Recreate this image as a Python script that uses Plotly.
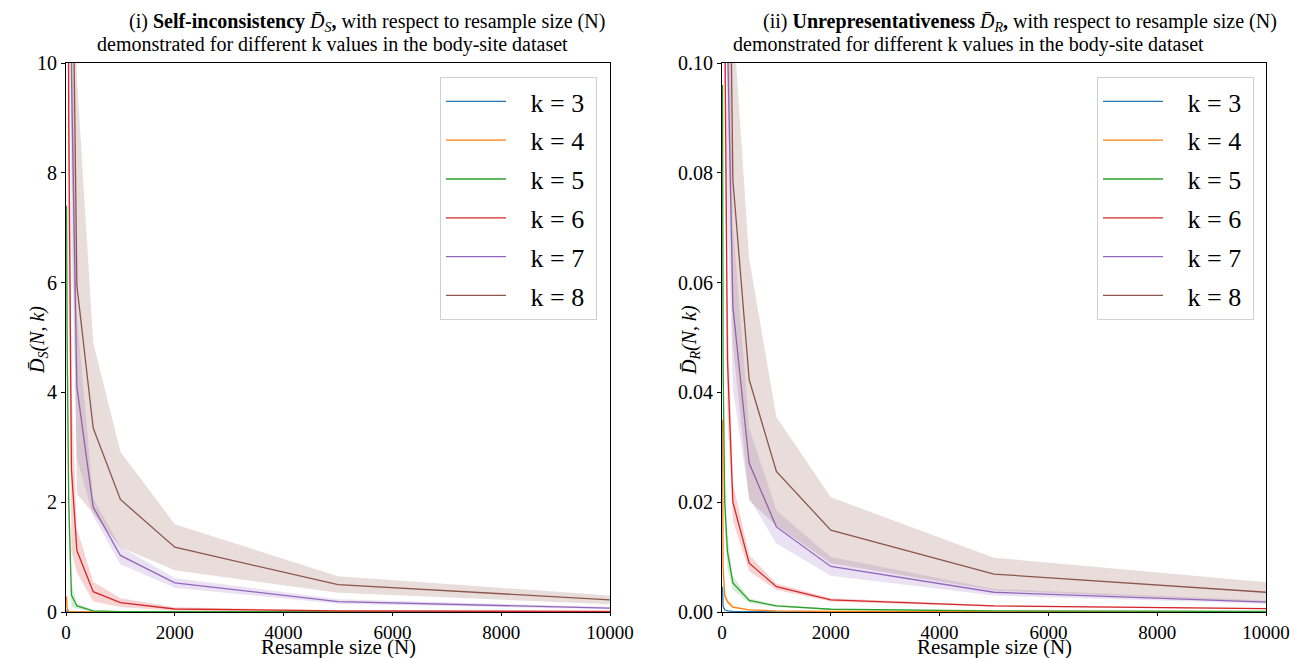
import plotly.graph_objects as go

# ---------------- data ----------------
N_VALUES = [10, 20, 50, 100, 200, 500, 1000, 2000, 5000, 10000]
K_VALUES = [3, 4, 5, 6, 7, 8]
COLORS = ["#1f77b4", "#ff7f0e", "#2ca02c", "#d62728", "#9467bd", "#8c564b"]

# (i) Self-inconsistency mean / std, one row per k
DS_MEAN = [
    [0.03, 0.005, 0.001, 0.0005, 0.0003, 0.0001, 0.0001, 0.0, 0.0, 0.0],
    [0.28, 0.06, 0.012, 0.004, 0.002, 0.001, 0.0005, 0.0002, 0.0001, 0.0001],
    [7.4, 5.0, 2.0, 0.31, 0.11, 0.02, 0.008, 0.004, 0.002, 0.001],
    [30.0, 20.0, 9.0, 2.6, 1.12, 0.37, 0.17, 0.055, 0.02, 0.01],
    [80.0, 45.0, 22.0, 9.8, 4.1, 1.91, 1.03, 0.53, 0.19, 0.07],
    [150.0, 80.0, 35.0, 14.0, 5.95, 3.35, 2.05, 1.18, 0.5, 0.22],
]
DS_STD = [
    [0.01, 0.002, 0.0, 0.0, 0.0, 0.0, 0.0, 0.0, 0.0, 0.0],
    [0.05, 0.02, 0.005, 0.002, 0.001, 0.0, 0.0, 0.0, 0.0, 0.0],
    [2.0, 1.5, 0.6, 0.22, 0.05, 0.012, 0.005, 0.002, 0.001, 0.0],
    [8.0, 6.0, 3.0, 1.5, 0.4, 0.18, 0.08, 0.03, 0.012, 0.006],
    [20.0, 12.0, 6.0, 3.0, 1.3, 0.16, 0.16, 0.09, 0.04, 0.02],
    [40.0, 25.0, 10.0, 5.0, 3.8, 1.55, 0.87, 0.42, 0.15, 0.08],
]

# (ii) Unrepresentativeness mean / std, one row per k
DR_MEAN = [
    [0.0046, 0.001, 0.0004, 0.0002, 0.0001, 0.00005, 0.00003, 0.00002, 0.00001, 0.00001],
    [0.035, 0.008, 0.003, 0.0019, 0.0009, 0.0004, 0.0002, 0.0001, 0.00005, 0.00003],
    [0.096, 0.045, 0.02, 0.011, 0.0053, 0.0021, 0.0011, 0.0005, 0.0002, 0.0001],
    [0.3, 0.2, 0.11, 0.046, 0.020, 0.0089, 0.0046, 0.0022, 0.0011, 0.0006],
    [0.6, 0.4, 0.2, 0.105, 0.0556, 0.0271, 0.0155, 0.0083, 0.0036, 0.0018],
    [1.0, 0.6, 0.3, 0.16, 0.0787, 0.0423, 0.0256, 0.0149, 0.0069, 0.0036],
]
DR_STD = [
    [0.001, 0.0003, 0.0001, 0.0, 0.0, 0.0, 0.0, 0.0, 0.0, 0.0],
    [0.005, 0.0015, 0.0006, 0.0005, 0.0002, 0.0001, 0.0, 0.0, 0.0, 0.0],
    [0.01, 0.008, 0.005, 0.003, 0.0012, 0.0004, 0.0002, 0.0001, 0.0, 0.0],
    [0.05, 0.03, 0.02, 0.01, 0.0035, 0.0015, 0.0006, 0.0003, 0.00015, 0.0001],
    [0.1, 0.06, 0.04, 0.03, 0.015, 0.0064, 0.003, 0.0017, 0.0006, 0.0003],
    [0.2, 0.1, 0.08, 0.06, 0.03, 0.022, 0.0099, 0.006, 0.003, 0.0018],
]

TITLE_LINE1 = [
    "(i) <b>Self-inconsistency</b> <i>D\u0304<sub>S</sub></i><b>,</b> with respect to resample size (N)",
    "(ii) <b>Unrepresentativeness</b> <i>D\u0304<sub>R</sub></i><b>,</b> with respect to resample size (N)",
]
TITLE_LINE2 = "demonstrated for different k values in the body-site dataset"
Y_LABELS = ["<i>D\u0304<sub>S</sub>(N, k)</i>", "<i>D\u0304<sub>R</sub>(N, k)</i>"]
X_LABEL = "Resample size (N)"

# ---------------- figure ----------------
W, H = 1291, 658
ML, MR, MT, MB = 66, 25, 63, 46
PW = W - ML - MR
PH = H - MT - MB
FONT = "Liberation Serif, Times New Roman, serif"


def px_x(p):
    return (p - ML) / PW


def px_y(p):
    return (H - MB - p) / PH


def rgba(hexc, a):
    h = hexc.lstrip("#")
    return "rgba(%d,%d,%d,%s)" % (int(h[0:2], 16), int(h[2:4], 16), int(h[4:6], 16), a)


fig = go.Figure()

panels = [
    (DS_MEAN, DS_STD, "x", "y", "legend"),
    (DR_MEAN, DR_STD, "x2", "y2", "legend2"),
]

for means, stds, xa, ya, leg in panels:
    for i, k in enumerate(K_VALUES):
        m = means[i]
        s = stds[i]
        upper = [a + b for a, b in zip(m, s)]
        lower = [a - b for a, b in zip(m, s)]
        grp = "%s_%d" % (leg, k)
        fig.add_trace(go.Scatter(x=N_VALUES, y=upper, xaxis=xa, yaxis=ya, mode="lines",
                                 line=dict(width=0, color=COLORS[i]), showlegend=False,
                                 hoverinfo="skip", legend=leg, legendgroup=grp))
        fig.add_trace(go.Scatter(x=N_VALUES, y=lower, xaxis=xa, yaxis=ya, mode="lines",
                                 line=dict(width=0, color=COLORS[i]), fill="tonexty",
                                 fillcolor=rgba(COLORS[i], 0.2), showlegend=False,
                                 hoverinfo="skip", legend=leg, legendgroup=grp))
        fig.add_trace(go.Scatter(x=N_VALUES, y=m, xaxis=xa, yaxis=ya, mode="lines",
                                 line=dict(width=1.3, color=COLORS[i]),
                                 name="\u00a0\u00a0\u00a0k = %d\u00a0" % k, legend=leg,
                                 legendgroup=grp))

dom1 = [0, px_x(610)]
dom2 = [px_x(722), 1]

axis_common = dict(showline=True, linecolor="black", linewidth=1, mirror=True,
                   ticks="outside", tickcolor="black", showgrid=False,
                   zeroline=False, automargin=False)
ytickfont = dict(family=FONT, size=20, color="black")
xtickfont = dict(family=FONT, size=19, color="black")

xticks = [0, 2000, 4000, 6000, 8000, 10000]
fig.update_layout(
    width=W, height=H,
    margin=dict(l=ML, r=MR, t=MT, b=MB, autoexpand=False),
    plot_bgcolor="white", paper_bgcolor="white",
    font=dict(family=FONT, color="black"),
    showlegend=True,
    xaxis=dict(domain=dom1, range=[0, 10000], tickvals=xticks, tickformat="d", anchor="y",
               ticklen=3, tickfont=xtickfont, **axis_common),
    yaxis=dict(domain=[0, 1], range=[0, 10], tickvals=[0, 2, 4, 6, 8, 10], anchor="x",
               ticklen=4, tickfont=ytickfont, **axis_common),
    xaxis2=dict(domain=dom2, range=[0, 10000], tickvals=xticks, tickformat="d", anchor="y2",
                ticklen=3, tickfont=xtickfont, **axis_common),
    yaxis2=dict(domain=[0, 1], range=[0, 0.1], tickvals=[0, 0.02, 0.04, 0.06, 0.08, 0.10],
                tickformat=".2f", anchor="x2", ticklen=4, tickfont=ytickfont, **axis_common),
)

legend_common = dict(bgcolor="rgba(255,255,255,0.8)", bordercolor="#d0d0d0", borderwidth=1,
                     font=dict(family=FONT, size=26, color="black"), xanchor="left",
                     yanchor="top", tracegroupgap=2, itemwidth=60, traceorder="grouped")
fig.update_layout(
    legend=dict(x=px_x(440), y=px_y(77), **legend_common),
    legend2=dict(x=px_x(1097), y=px_y(77), **legend_common),
)

annots = []
for j, (c1, c2, ylx, xc) in enumerate([(367, 332, 38, 338), (1020, 968, 690, 994)]):
    annots.append(dict(text=TITLE_LINE1[j], x=px_x(c1), y=px_y(22), xref="paper", yref="paper",
                       xanchor="center", yanchor="middle", showarrow=False,
                       font=dict(family=FONT, size=20, color="black")))
    annots.append(dict(text=TITLE_LINE2, x=px_x(c2), y=px_y(45), xref="paper", yref="paper",
                       xanchor="center", yanchor="middle", showarrow=False,
                       font=dict(family=FONT, size=20, color="black")))
    annots.append(dict(text=Y_LABELS[j], x=px_x(ylx), y=px_y(340), xref="paper", yref="paper",
                       xanchor="center", yanchor="middle", showarrow=False, textangle=-90,
                       font=dict(family=FONT, size=20, color="black")))
    annots.append(dict(text=X_LABEL, x=px_x(xc), y=px_y(647), xref="paper", yref="paper",
                       xanchor="center", yanchor="middle", showarrow=False,
                       font=dict(family=FONT, size=21, color="black")))
fig.update_layout(annotations=annots)

fig.write_html("out.html", config={"displayModeBar": False},
               post_script="document.body.style.margin='0px';document.body.style.padding='0px';")
